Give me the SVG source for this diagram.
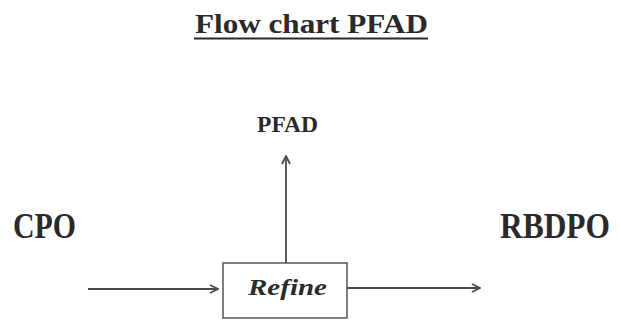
<svg xmlns="http://www.w3.org/2000/svg" width="621" height="322" viewBox="0 0 621 322">
<style>
.t{font-family:"Liberation Serif","DejaVu Serif",serif;font-weight:bold;fill:#2a2a2a}
.ln{stroke:#4a4a4a;stroke-width:1.8;fill:none}
</style>
<defs>
<marker id="ah" viewBox="0 0 10 10" refX="9" refY="5" markerWidth="10" markerHeight="10" markerUnits="userSpaceOnUse" orient="auto">
<path d="M1,1 L9,5 L1,9" fill="none" stroke="#4a4a4a" stroke-width="1.8"/>
</marker>
</defs>
<rect width="621" height="322" fill="#ffffff"/>
<g id="title">
<text class="t" x="195" y="33" font-size="27" textLength="233" lengthAdjust="spacingAndGlyphs">Flow chart PFAD</text>
<line x1="194" y1="38.5" x2="428" y2="38.5" stroke="#2a2a2a" stroke-width="1.8"/>
</g>
<g id="cpo"><text class="t" x="13" y="238" font-size="36" textLength="63" lengthAdjust="spacingAndGlyphs">CPO</text></g>
<g id="rbdpo"><text class="t" x="500" y="238" font-size="35" textLength="110" lengthAdjust="spacingAndGlyphs">RBDPO</text></g>
<g id="pfad"><text class="t" x="257" y="132" font-size="24" textLength="61" lengthAdjust="spacingAndGlyphs">PFAD</text></g>
<g id="refine">
<rect x="223" y="263" width="124" height="55" fill="#ffffff" stroke="#555" stroke-width="1.5"/>
<text class="t" x="248" y="295" font-size="24" font-style="italic" textLength="79" lengthAdjust="spacingAndGlyphs">Refine</text>
</g>
<g id="connectors">
<line class="ln" x1="88" y1="289" x2="218" y2="289" marker-end="url(#ah)"/>
<line class="ln" x1="347" y1="288" x2="480" y2="288" marker-end="url(#ah)"/>
<line class="ln" x1="286" y1="263" x2="286" y2="156" marker-end="url(#ah)"/>
</g>
</svg>
